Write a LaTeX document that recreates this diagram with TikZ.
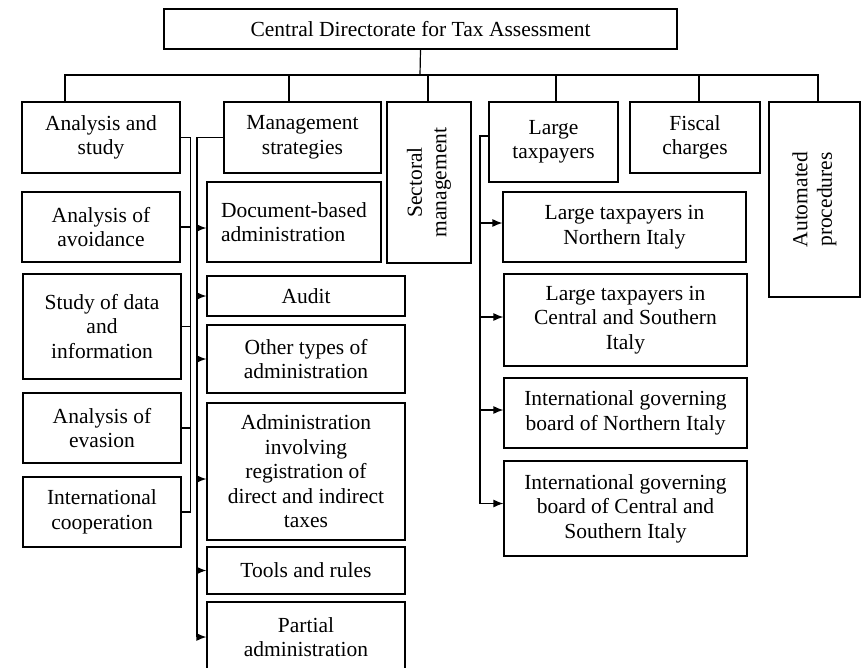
\documentclass[tikz,border=0pt]{standalone}
\usepackage{fontspec}
\setmainfont{Liberation Serif}
\usetikzlibrary{arrows.meta,calc}

\begin{document}
\begin{tikzpicture}[
  x=1pt, y=-1pt,
  txt/.style={align=center, font=\fontsize{21.5}{24.5}\selectfont},
  box/.style={draw, line width=1.2pt, inner sep=4pt, txt},
  sz/.style 2 args={minimum width=#1, minimum height=#2},
  ln/.style={line width=1.2pt},
  ar/.style={-{Latex[length=10pt,width=8pt]}, line width=1.2pt}
]
\useasboundingbox (0,0) rectangle (861,667);

\node[box, sz={513}{40}] (top) at (420.5,29) {Central Directorate for Tax Assessment};

% first level
\node[box, sz={158}{71}] (ans) at (101,137.5) {Analysis and\\ study};
\node[box, sz={157}{71}] (mgs) at (302.5,137.5) {Management\\ strategies};
\node[box, sz={84}{161}] (sec) at (429,182.5) {};
\node[txt, rotate=90] (sectxt) at (sec) {Sectoral\\ management};
\node[box, sz={129}{80}] (ltp) at (553.5,142) {Large\\ taxpayers};
\node[box, sz={130}{71}] (fis) at (695,137.5) {Fiscal\\ charges};
\node[box, sz={91}{195}] (aut) at (814.5,199.5) {};
\node[txt, rotate=90] (auttxt) at (aut) {Automated\\ procedures};

% analysis and study
\node[box, sz={158}{70}] (avo) at (101,227) {Analysis of\\ avoidance};
\node[box, sz={158}{105}] (dat) at (102,326.5) {Study of data\\ and\\ information};
\node[box, sz={158}{70}] (eva) at (102,428) {Analysis of\\ evasion};
\node[box, sz={158}{70}] (coo) at (102,512) {International\\ cooperation};

% management strategies
\node[box, sz={174}{80}, align=left] (doc) at (294,222) {Document-based\\ administration};
\node[box, sz={198}{40}] (audit) at (306,296) {Audit};
\node[box, sz={198}{68}] (oth) at (306,359) {Other types of\\ administration};
\node[box, sz={198}{137}] (adm) at (306,471.5) {Administration\\ involving\\ registration of\\ direct and indirect\\ taxes};
\node[box, sz={198}{47}] (too) at (306,570.5) {Tools and rules};
\node[box, sz={198}{70}] (par) at (306,637) {Partial\\ administration};

% large taxpayers
\node[box, sz={243}{70}] (lno) at (624.5,227) {Large taxpayers in\\ Northern Italy};
\node[box, sz={243}{92}] (lcs) at (625.5,320) {Large taxpayers in\\ Central and Southern\\ Italy};
\node[box, sz={243}{70}] (ino) at (625.5,413) {International governing\\ board of Northern Italy};
\node[box, sz={243}{95}] (ics) at (625.5,508.5) {International governing\\ board of Central and\\ Southern Italy};

% top bus
\coordinate (bus) at (420,75);
\draw[ln] (top.south) -- (bus);
\foreach \n/\dx in {ans/-36,mgs/-13.5,ltp/2.5,fis/4,aut/3.5,sec/-1}
  \draw[ln] ($(\n.north)+(\dx,0)$) |- (bus);

% left tree
\draw[ln] (ans.east) -- ++(10,0) coordinate (la) |- (coo.east);
\foreach \n in {avo,dat,eva}
  \draw[ln] (\n.east) -- (\n.east -| la);

% middle tree
\coordinate (lm) at (197,0);
\coordinate (docin) at ($(doc.west)+(0,6)$);
\coordinate (admin) at ($(adm.west)+(0,7.5)$);
\draw[ln] (mgs.west) -- (mgs.west -| lm) -- (par.west -| lm);
\foreach \n in {docin,audit.west,oth.west,admin,too.west,par.west}
  \draw[ar] (\n -| lm) -- (\n);

% right tree
\coordinate (lr) at (480,0);
\coordinate (ltpout) at ($(ltp.west)+(0,-6)$);
\coordinate (lnoin) at ($(lno.west)+(0,-4)$);
\coordinate (lcsin) at ($(lcs.west)+(0,-3)$);
\coordinate (inoin) at ($(ino.west)+(0,-3)$);
\coordinate (icsin) at ($(ics.west)+(0,-5)$);
\draw[ln] (ltpout) -- (ltpout -| lr) -- (icsin -| lr);
\foreach \n in {lnoin,lcsin,inoin,icsin}
  \draw[ar] (\n -| lr) -- (\n);
\end{tikzpicture}
\end{document}
